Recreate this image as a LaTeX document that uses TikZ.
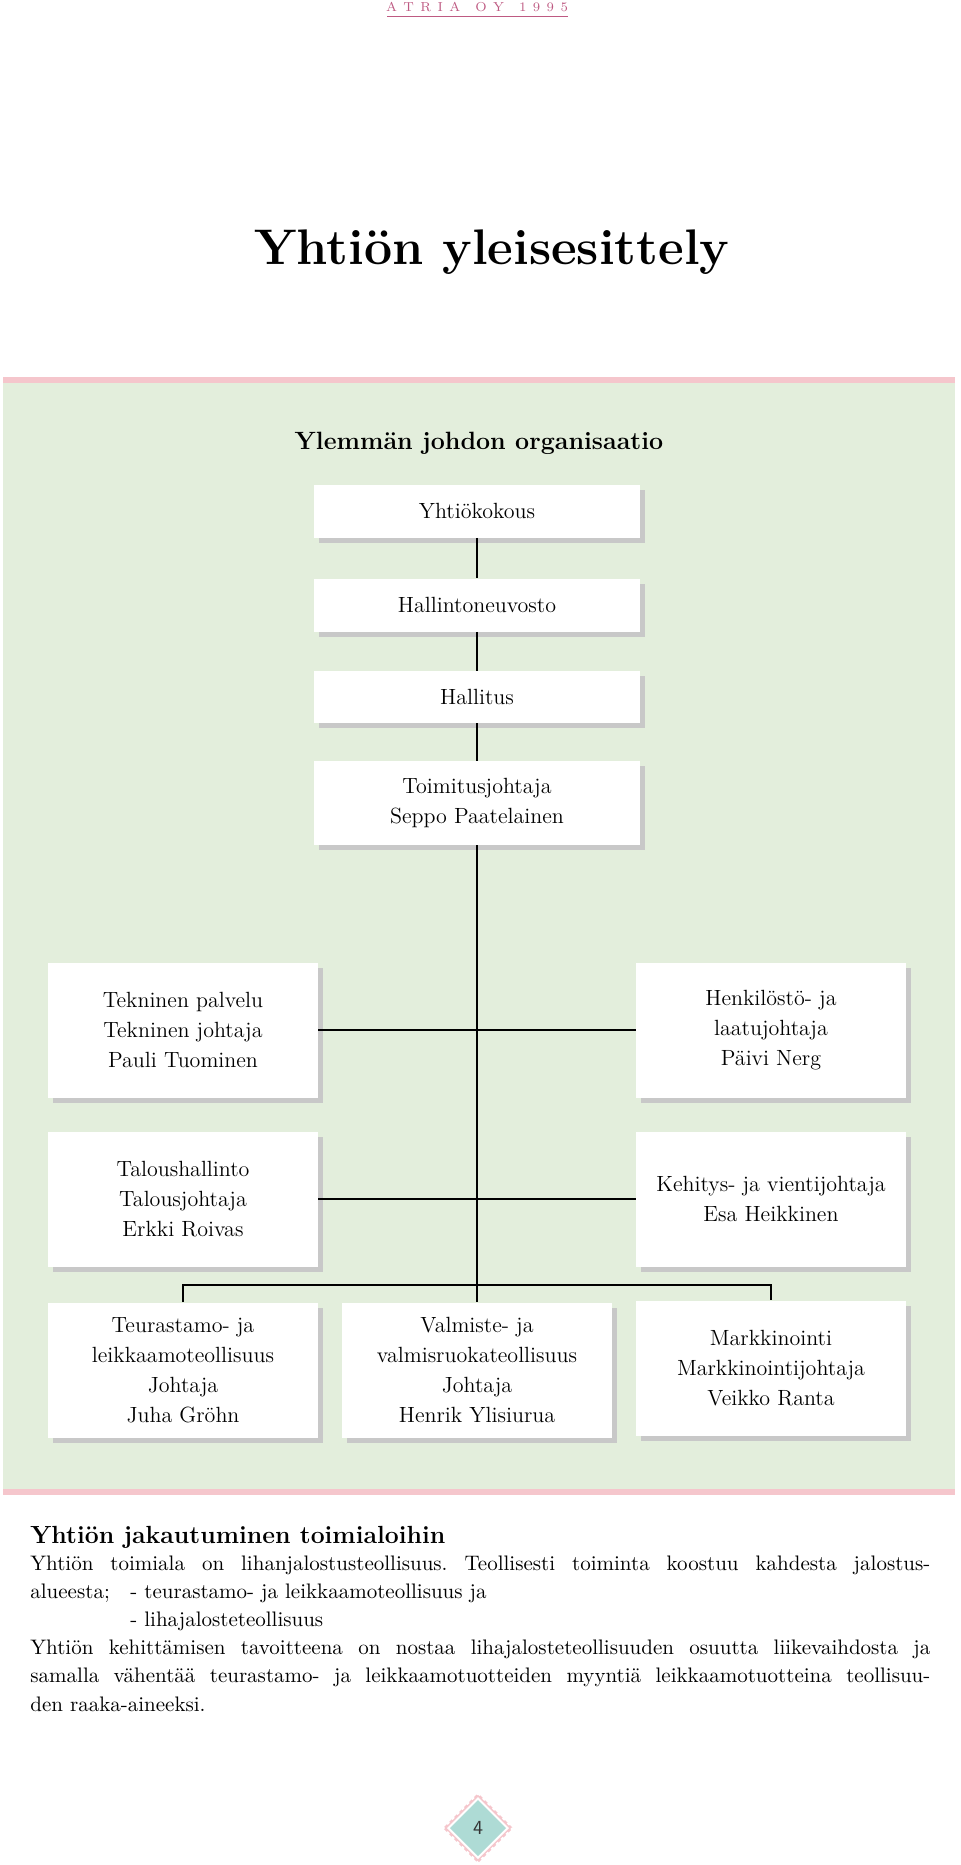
\documentclass[tikz,border=0pt]{standalone}
\usepackage{fontspec}
\usepackage{xcolor}
\usepackage{tikz}
\usetikzlibrary{shadows}
\definecolor{panelgreen}{HTML}{E3EEDC}
\definecolor{bandpink}{HTML}{F5C6CC}
\definecolor{atriapink}{HTML}{BE5A82}
\definecolor{shadowgray}{HTML}{C8C8C8}
\definecolor{pageteal}{HTML}{AEDBD5}

\begin{document}
\begin{tikzpicture}[x=0.5pt, y=-0.5pt,
        orgbox/.style={fill=white, align=center, inner sep=0pt,
            font=\fontsize{11}{15}\selectfont,
            drop shadow={shadow xshift=2.5pt, shadow yshift=-2.5pt, fill=shadowgray, opacity=1}},
        topbox/.style={orgbox, minimum width=163pt},
        sidebox/.style={orgbox, minimum width=135pt, minimum height=67.5pt},
        orgline/.style={line width=0.6pt}]
        \useasboundingbox (0,0) rectangle (960,1865);
        \fill[panelgreen] (3,383) rectangle (955,1489);
        \fill[bandpink] (3,377) rectangle (955,383);
        \fill[bandpink] (3,1489) rectangle (955,1495);

        \node[anchor=base, text=atriapink, inner sep=0pt, font=\fontsize{6.5}{8}\selectfont] (atria) at (477,11)
            {A\kern3.2pt T\kern3.2pt R\kern3.2pt I\kern3.2pt A\kern7.5pt O\kern3.2pt Y\kern7.5pt 1\kern3.2pt 9\kern3.2pt 9\kern3.2pt 5};
        \draw[atriapink, line width=0.5pt] (387,16) -- (568,16);
        \node[anchor=base, font=\fontsize{25}{30}\selectfont\bfseries] (otsikko) at (492,264) {Yhtiön yleisesittely};
        \node[anchor=base, font=\fontsize{12.5}{15}\selectfont\bfseries] (orgotsikko) at (479,449) {Ylemmän johdon organisaatio};

        \node[topbox, minimum height=26.5pt] (kokous) at (477,511) {Yhtiökokous};
        \node[topbox, minimum height=26.5pt] (neuvosto) at (477,605) {Hallintoneuvosto};
        \node[topbox, minimum height=26pt] (hallitus) at (477,697) {Hallitus};
        \node[topbox, minimum height=42pt] (toimitus) at (477,803) {Toimitusjohtaja\\Seppo Paatelainen};

        \node[sidebox] (tekninen) at (183,1030) {Tekninen palvelu\\Tekninen johtaja\\Pauli Tuominen};
        \node[sidebox] (talous) at (183,1199) {Taloushallinto\\Talousjohtaja\\Erkki Roivas};
        \node[sidebox] (henkilosto) at (771,1030) {Henkilöstö- ja\\laatujohtaja\\Päivi Nerg};
        \node[sidebox] (kehitys) at (771,1199) {Kehitys- ja vientijohtaja\\Esa Heikkinen};

        \node[sidebox] (teurastamo) at (183,1370) {Teurastamo- ja\\leikkaamoteollisuus\\Johtaja\\Juha Gröhn};
        \node[sidebox] (valmiste) at (477,1370) {Valmiste- ja\\valmisruokateollisuus\\Johtaja\\Henrik Ylisiurua};
        \node[sidebox] (markkinointi) at (771,1368) {Markkinointi\\Markkinointijohtaja\\Veikko Ranta};

        \draw[orgline] (kokous) -- (neuvosto);
        \draw[orgline] (neuvosto) -- (hallitus);
        \draw[orgline] (hallitus) -- (toimitus);
        \draw[orgline] (toimitus) -- (valmiste);
        \draw[orgline] (tekninen.east) -- (henkilosto.west);
        \draw[orgline] (talous.east) -- (kehitys.west);
        \coordinate (jako) at (477,1285);
        \draw[orgline] (teurastamo.north) |- (jako) -| (markkinointi.north);

        \node[anchor=base west, inner sep=0pt, font=\fontsize{12.4}{14}\selectfont\bfseries] (jakotitle) at (30,1543) {Yhtiön jakautuminen toimialoihin};
        \node[anchor=base west, inner sep=0pt, text width=450pt, align=justify,
            font=\fontsize{10.5}{14.1}\selectfont] (teksti) at (30,1570)
            {\frenchspacing\hyphenpenalty=10000 Yhtiön toimiala on lihanjalostusteollisuus. Teollisesti toiminta koostuu kahdesta jalostus-\linebreak
            \makebox[50pt][l]{alueesta;}- teurastamo- ja leikkaamoteollisuus ja\newline
            \hspace*{50pt}- lihajalosteteollisuus\newline
            Yhtiön kehittämisen tavoitteena on nostaa lihajalosteteollisuuden osuutta liikevaihdosta ja\linebreak
            samalla vähentää teurastamo- ja leikkaamotuotteiden myyntiä leikkaamotuotteina teollisuu-\linebreak
            den raaka-aineeksi.};

        \fill[bandpink] (478,1793) -- (513,1828) -- (478,1863) -- (443,1828) -- cycle;
        \draw[white, line width=1.2pt, dash pattern=on 1.5pt off 2pt] (478,1793) -- (513,1828) -- (478,1863) -- (443,1828) -- cycle;
        \fill[white] (478,1797) -- (509,1828) -- (478,1859) -- (447,1828) -- cycle;
        \fill[pageteal] (478,1800) -- (506,1828) -- (478,1856) -- (450,1828) -- cycle;
        \node[font=\sffamily\fontsize{10}{12}\selectfont, text=black!80] (sivu) at (478,1828) {4};
    \end{tikzpicture}
\end{document}
